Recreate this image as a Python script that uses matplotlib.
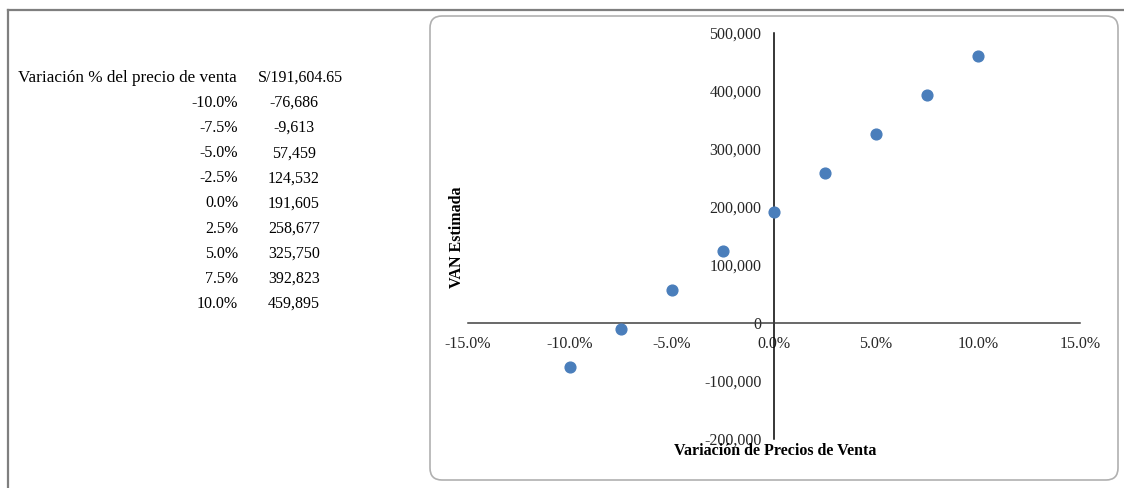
import matplotlib.pyplot as plt
from matplotlib.lines import Line2D
from matplotlib.patches import FancyBboxPatch
from matplotlib.ticker import FuncFormatter, MultipleLocator
from matplotlib.transforms import IdentityTransform

plt.rcParams['font.family'] = ['Liberation Serif', 'DejaVu Serif']

# Sensibilidad del VAN frente a la variación del precio de venta
variacion = [-0.10, -0.075, -0.05, -0.025, 0.0, 0.025, 0.05, 0.075, 0.10]
van = [-76686, -9613, 57459, 124532, 191605, 258677, 325750, 392823, 459895]
van_base = 'S/191,604.65'
encabezado = 'Variación % del precio de venta'

W, H = 1124, 488
fig = plt.figure(figsize=(W / 100, H / 100), dpi=100)

def fx(px):
    return px / W

def fy(py):
    return 1 - py / H

# marco de la hoja
fig.add_artist(Line2D([fx(8), fx(8)], [fy(10), 0], color='#7f7f7f', lw=1.6))
fig.add_artist(Line2D([fx(8), 1], [fy(10), fy(10)], color='#7f7f7f', lw=1.6))

# tabla de valores
fs = 11.5
fig.text(fx(18), fy(78), encabezado, ha='left', va='center', fontsize=12.3)
fig.text(fx(258), fy(78), van_base, ha='left', va='center', fontsize=fs)
for i, (v, n) in enumerate(zip(variacion, van)):
    y = fy(103 + i * 25.1)
    fig.text(fx(238), y, f'{v * 100:.1f}%', ha='right', va='center', fontsize=fs)
    fig.text(fx(294), y, f'{n:,}', ha='center', va='center', fontsize=fs)

# recuadro del gráfico
box = FancyBboxPatch((430, H - 480), 688, 464, boxstyle='round,pad=0,rounding_size=12',
                     transform=IdentityTransform(), facecolor='white',
                     edgecolor='#b0b0b0', lw=1.2, zorder=-1)
fig.add_artist(box)

ax = fig.add_axes([fx(468), 1 - 439 / H, 612 / W, 406 / H])
ax.set_facecolor('none')
ax.scatter(variacion, van, s=60, color='#4a7ebb', zorder=3, clip_on=False)

ax.set_xlim(-0.15, 0.15)
ax.set_ylim(-200000, 500000)
ax.xaxis.set_major_locator(MultipleLocator(0.05))
ax.yaxis.set_major_locator(MultipleLocator(100000))
ax.xaxis.set_major_formatter(FuncFormatter(lambda v, p: f'{v * 100:.1f}%'))
ax.yaxis.set_major_formatter(FuncFormatter(lambda v, p: f'{v:,.0f}'))

for s in ['top', 'right']:
    ax.spines[s].set_visible(False)
ax.spines['left'].set_position(('data', 0))
ax.spines['bottom'].set_position(('data', 0))
ax.spines['left'].set_color('black')
ax.spines['bottom'].set_color('#404040')
ax.spines['left'].set_linewidth(1.1)
ax.spines['bottom'].set_linewidth(1.1)
ax.tick_params(axis='x', length=0, pad=9, labelsize=fs)
ax.tick_params(axis='y', length=0, pad=9, labelsize=fs)
for lab in ax.get_xticklabels() + ax.get_yticklabels():
    lab.set_color('#262626')

fig.text(fx(457), fy(237), 'VAN Estimada', rotation=90, ha='center', va='center',
         fontsize=fs, fontweight='bold')
fig.text(fx(775), fy(451), 'Variación de Precios de Venta', ha='center', va='center',
         fontsize=fs, fontweight='bold', zorder=5)

fig.savefig('out.png', dpi=100)
